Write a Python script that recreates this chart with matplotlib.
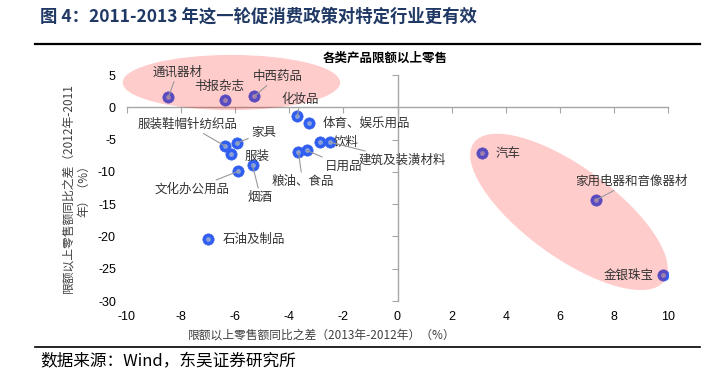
import matplotlib
matplotlib.use("Agg")
import matplotlib.pyplot as plt
from matplotlib.patches import Ellipse
from matplotlib.transforms import Affine2D
from matplotlib.lines import Line2D

plt.rcParams['font.family'] = ['Noto Sans CJK SC', 'DejaVu Sans']
plt.rcParams['axes.unicode_minus'] = False

# 各类产品：横轴 2013-2012 年差值，纵轴 2012-2011 年差值（%）
names = ['通讯器材', '书报杂志', '中西药品', '化妆品', '体育、娱乐用品',
         '服装鞋帽针纺织品', '家具', '服装', '文化办公用品', '烟酒',
         '粮油、食品', '日用品', '饮料', '建筑及装潢材料', '石油及制品',
         '汽车', '家用电器和音像器材', '金银珠宝']
x_diff = [-8.47, -6.36, -5.29, -3.70, -3.29,
          -6.36, -5.95, -6.17, -5.88, -5.36,
          -3.66, -3.36, -2.88, -2.48, -6.99,
          3.11, 7.32, 9.83]
y_diff = [1.55, 1.08, 1.70, -1.39, -2.48,
          -6.04, -5.57, -7.28, -9.90, -8.98,
          -6.97, -6.66, -5.42, -5.42, -20.4,
          -7.10, -14.4, -26.0]

x_ticks = list(range(-10, 11, 2))
y_ticks = list(range(-30, 6, 5))

# 标签偏移（像素）和是否画引线
label_offsets = [(9, 25), (-6, 14), (23, 20), (3, 17), (58, 0),
                 (-38, 22), (27, 11), (26, -2), (-46, -18), (8, -32),
                 (4, -29), (37, -16), (27, 0), (72, -18), (45, 0),
                 (26, 0), (36, 19), (-35, 0)]
leaders = [True, False, True, True, False,
           True, True, False, True, True,
           True, True, False, True, False,
           False, True, False]

fig = plt.figure(figsize=(7.13, 3.88), dpi=100)
W, H = 713, 388
ax = fig.add_axes([127 / W, (H - 301) / H, 541 / W, 226 / H])
ax.set_xlim(-10, 10)
ax.set_ylim(-30, 5)

gray = '#a6a6a6'
for s in ['top', 'right']:
    ax.spines[s].set_visible(False)
ax.spines['left'].set_position(('data', 0))
ax.spines['bottom'].set_position(('data', 0))
for s in ['left', 'bottom']:
    ax.spines[s].set_color(gray)
    ax.spines[s].set_linewidth(1.0)
ax.set_xticks(x_ticks)
ax.set_yticks(y_ticks)
ax.tick_params(direction='out', length=4, color=gray, labelleft=False, labelbottom=False)

# tick labels at the plot edges
sec_y = ax.secondary_yaxis(0)
sec_y.set_yticks(y_ticks)
sec_x = ax.secondary_xaxis(0)
sec_x.set_xticks(x_ticks)
for sec in (sec_y, sec_x):
    for sp in sec.spines.values():
        sp.set_visible(False)
    sec.tick_params(length=0, labelsize=9, labelcolor='black')
    for lab in sec.get_xticklabels() + sec.get_yticklabels():
        lab.set_fontfamily(['Liberation Sans', 'DejaVu Sans'])
sec_y.tick_params(pad=8)
sec_x.tick_params(pad=7)

# points
ax.scatter(x_diff, y_diff, s=66, color='#2f5ef2', edgecolor='#3a62e8', linewidth=0.5, zorder=3)
ax.scatter(x_diff, y_diff, s=12, color='#8aa2d8', linewidth=0, zorder=3.1)

# highlight ellipses, drawn in equal-pixel units
k = (226 / 35) / (541 / 20)
to_data = Affine2D().scale(1, 1 / k) + ax.transData
highlights = [(-6.14, 3.84, 8.04, 2.04, 0), (6.34, -16.2, 8.7, 3.33, -36)]
for cx, cy, w, h, ang in highlights:
    e = Ellipse((cx, cy * k), w, h, angle=ang, transform=to_data,
                facecolor='red', alpha=0.2, edgecolor='none', clip_on=False, zorder=4)
    ax.add_patch(e)

for name, xv, yv, off, lead in zip(names, x_diff, y_diff, label_offsets, leaders):
    props = dict(arrowstyle='-', color='#999999', lw=0.8, shrinkA=0, shrinkB=0) if lead else None
    ax.annotate(name, (xv, yv), xytext=off, textcoords='offset pixels',
                ha='center', va='center', fontsize=9, color='#333333',
                arrowprops=props, zorder=5, annotation_clip=False)

fig.text(385 / W, 1 - 58 / H, '各类产品限额以上零售', ha='center', va='center',
         fontsize=9, fontweight='bold', color='black')
fig.text(76 / W, 1 - 188 / H, '限额以上零售额同比之差（2012年-2011\n年）（%）',
         rotation=90, ha='center', va='center', fontsize=8.5, color='#404040',
         multialignment='center', linespacing=1.3)
fig.text(322 / W, 1 - 335 / H, '限额以上零售额同比之差（2013年-2012年）（%）',
         ha='center', va='center', fontsize=8.5, color='#404040')

fig.text(40 / W, 1 - 17 / H, '图 4：2011-2013 年这一轮促消费政策对特定行业更有效',
         ha='left', va='center', fontsize=12.5, fontweight='bold', color='#1f3864')
fig.add_artist(Line2D([35 / W, 700 / W], [1 - 44 / H, 1 - 44 / H], color='black', lw=1.6))
fig.add_artist(Line2D([35 / W, 700 / W], [1 - 347 / H, 1 - 347 / H], color='black', lw=1.2))
fig.text(40 / W, 1 - 362 / H, '数据来源：Wind，东吴证券研究所',
         ha='left', va='center', fontsize=12, color='black')

fig.savefig('out.png', dpi=100)
